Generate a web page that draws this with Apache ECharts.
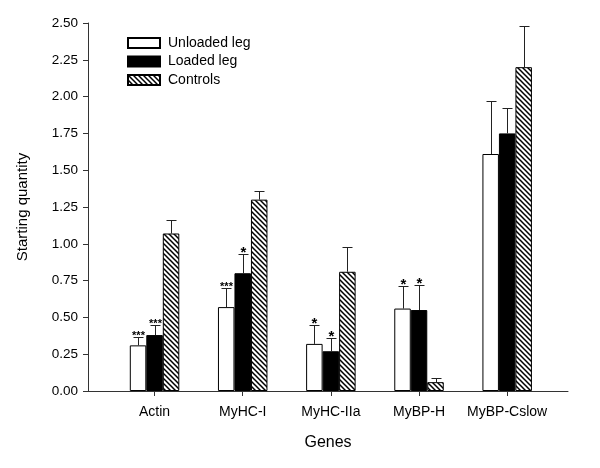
<!DOCTYPE html>
<html>
<head>
<meta charset="utf-8">
<script src="https://cdn.jsdelivr.net/npm/echarts@6/dist/echarts.min.js"></script>
<style>html,body{margin:0;padding:0;background:#fff}#c{width:600px;height:468px}</style>
</head>
<body>
<div id="c"></div>
<script>
var categories = ['Actin', 'MyHC-I', 'MyHC-IIa', 'MyBP-H', 'MyBP-Cslow'];
var unloaded = [0.31, 0.57, 0.32, 0.56, 1.61];
var loaded = [0.38, 0.80, 0.27, 0.55, 1.75];
var controls = [1.07, 1.30, 0.81, 0.06, 2.20];
var unloadedErr = [0.06, 0.13, 0.13, 0.15, 0.36];
var loadedErr = [0.07, 0.13, 0.09, 0.17, 0.17];
var controlsErr = [0.09, 0.06, 0.17, 0.03, 0.28];
var unloadedSig = ['***', '***', '*', '*', ''];
var loadedSig = ['***', '*', '*', '*', ''];
var controlsSig = ['', '', '', '', ''];
var yTicks = [0, 0.25, 0.5, 0.75, 1, 1.25, 1.5, 1.75, 2, 2.25, 2.5];

var FONT = 'Liberation Sans, Arial, sans-serif';
var BARW = 16.5;

// hatch pattern
var S = 5;
var pc = document.createElement('canvas');
pc.width = S; pc.height = S;
var g = pc.getContext('2d');
g.fillStyle = '#fff'; g.fillRect(0, 0, S, S);
g.strokeStyle = '#000'; g.lineWidth = 1.5;
g.beginPath();
g.moveTo(-1, -1); g.lineTo(S + 1, S + 1);
g.moveTo(S - 1, -1); g.lineTo(S + 1, 1);
g.moveTo(-1, S - 1); g.lineTo(1, S + 1);
g.stroke();

function pairs(arr) { return arr.map(function (v, i) { return [i + 1, v]; }); }

var errData = [];
[[unloaded, unloadedErr, unloadedSig], [loaded, loadedErr, loadedSig], [controls, controlsErr, controlsSig]].forEach(function (s, k) {
  s[0].forEach(function (v, i) { errData.push([i + 1, v, s[1][i], k, s[2][i]]); });
});

var chart = echarts.init(document.getElementById('c'));
chart.setOption({
  animation: false,
  backgroundColor: '#fff',
  grid: { left: 88, right: 32, top: 23, bottom: 77, containLabel: false },
  legend: {
    orient: 'vertical', left: 127, top: 36, padding: 0,
    icon: 'rect',
    itemWidth: 32, itemHeight: 10, itemGap: 4.5,
    textStyle: { fontFamily: FONT, fontSize: 14, color: '#000', padding: [0, 0, 0, 3] },
    data: ['Unloaded leg', 'Loaded leg', 'Controls']
  },
  xAxis: {
    type: 'value', min: 0.245, max: 5.69,
    name: 'Genes', nameLocation: 'middle', nameGap: 44,
    nameTextStyle: { fontFamily: FONT, fontSize: 16, color: '#000' },
    axisLine: { show: true, lineStyle: { color: '#333', width: 1 } },
    axisTick: { show: true, length: 5, customValues: [1, 2, 3, 4, 5], lineStyle: { color: '#333' } },
    axisLabel: {
      customValues: [1, 2, 3, 4, 5], margin: 14,
      fontFamily: FONT, fontSize: 14, color: '#000',
      formatter: function (v) { return categories[Math.round(v) - 1] || ''; }
    },
    splitLine: { show: false }
  },
  yAxis: {
    type: 'value', min: 0, max: 2.5, interval: 0.25,
    name: 'Starting quantity', nameLocation: 'middle', nameGap: 58, nameRotate: 90,
    nameTextStyle: { fontFamily: FONT, fontSize: 15, color: '#000' },
    axisLine: { show: true, lineStyle: { color: '#333', width: 1 } },
    axisTick: { show: true, length: 5, lineStyle: { color: '#333' } },
    axisLabel: {
      margin: 10, fontFamily: FONT, fontSize: 13.5, color: '#000',
      customValues: yTicks,
      formatter: function (v) { return v.toFixed(2); }
    },
    splitLine: { show: false }
  },
  series: [
    { name: 'Unloaded leg', type: 'bar', barWidth: BARW, barGap: '0%', data: pairs(unloaded),
      itemStyle: { color: '#fff', borderColor: '#000', borderWidth: 1 } },
    { name: 'Loaded leg', type: 'bar', barWidth: BARW, barGap: '0%', data: pairs(loaded),
      itemStyle: { color: '#000', borderColor: '#000', borderWidth: 1 } },
    { name: 'Controls', type: 'bar', barWidth: BARW, barGap: '0%', data: pairs(controls),
      itemStyle: { color: { image: pc, repeat: 'repeat' }, borderColor: '#000', borderWidth: 1 } },
    {
      type: 'custom', z: 10, silent: true,
      data: errData,
      encode: { x: 0, y: 1 },
      renderItem: function (params, api) {
        var x = api.value(0), m = api.value(1), e = api.value(2), k = api.value(3);
        var sig = errData[params.dataIndex][4];
        var off = (k - 1) * BARW;
        var p0 = api.coord([x, m]);
        var p1 = api.coord([x, m + e]);
        var cx = Math.round(p0[0] + off) + 0.5;
        var ty = Math.round(p1[1]) + 0.5;
        var children = [
          { type: 'line', shape: { x1: cx, y1: p0[1], x2: cx, y2: ty }, style: { stroke: '#222', lineWidth: 1 } },
          { type: 'line', shape: { x1: cx - 5, y1: ty, x2: cx + 5, y2: ty }, style: { stroke: '#222', lineWidth: 1 } }
        ];
        if (sig) {
          var big = sig.length === 1;
          children.push({
            type: 'text',
            style: {
              x: cx, y: ty + (big ? 6 : 4), text: sig,
              fontFamily: FONT, fontSize: big ? 15 : 11, fontWeight: 'bold',
              fill: '#000', align: 'center', verticalAlign: 'bottom'
            }
          });
        }
        return { type: 'group', children: children };
      }
    }
  ]
});
</script>
</body>
</html>
